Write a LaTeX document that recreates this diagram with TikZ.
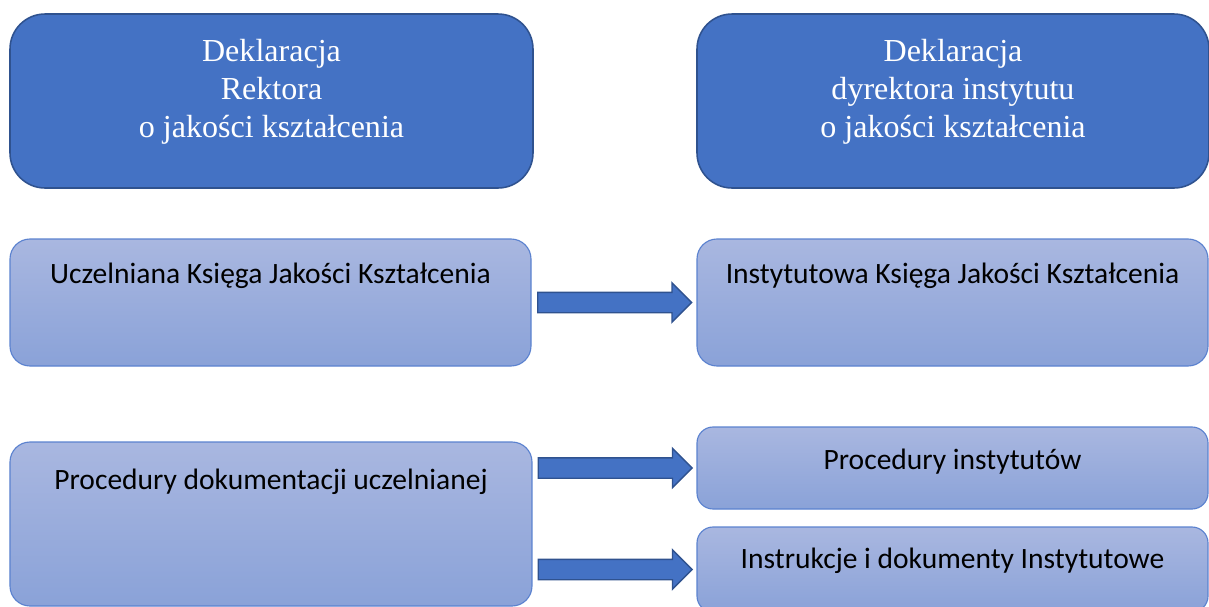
\documentclass[tikz,border=0pt]{standalone}
\usepackage{fontspec}
\setmainfont{Liberation Serif}
\newfontfamily\bodyfont{Carlito}
\usepackage{tikz}
\usetikzlibrary{shapes.arrows, positioning, calc}

\definecolor{declfill}{HTML}{4472C4}
\definecolor{declline}{HTML}{2F528F}
\definecolor{booktop}{HTML}{A9B7E0}
\definecolor{bookbot}{HTML}{8AA2D8}
\definecolor{bookline}{HTML}{5B82CF}

\begin{document}
\begin{tikzpicture}[
    decl/.style={draw=declline, line width=1.1pt, fill=declfill, rounded corners=0.875cm, minimum height=4.35cm, inner sep=0pt},
    book/.style={draw=bookline, line width=0.8pt, top color=booktop, bottom color=bookbot, rounded corners=0.5cm, inner sep=0pt},
    decltext/.style={text=white, align=center, yshift=0.23cm, font=\fontsize{22.8}{26.7}\selectfont},
    booktext/.style={anchor=base, font=\bodyfont\fontsize{21}{24}\selectfont},
    blockarrow/.style={single arrow, draw=declline, line width=1pt, fill=declfill, minimum height=3.85cm, inner xsep=0pt, inner ysep=0.2375cm, single arrow head extend=0.2375cm, xshift=-0.11cm}
]
    \useasboundingbox (0,0) rectangle (30.225,-15.15);

    % declarations
    \node[decl, minimum width=13.075cm, label={[decltext]center:Deklaracja\\Rektora\\o jakości kształcenia}] (rektor) at (6.7875,-2.525) {};
    \node[decl, minimum width=12.8cm, label={[decltext]center:Deklaracja\\dyrektora instytutu\\o jakości kształcenia}] (dyrektor) at (23.825,-2.525) {};

    % books of quality
    \node[book, minimum width=13.025cm, minimum height=3.175cm, label={[booktext, yshift=-1.13cm]north:Uczelniana Księga Jakości Kształcenia}] (uczkj) at (6.7625,-7.5625) {};
    \node[book, minimum width=12.775cm, minimum height=3.175cm, label={[booktext, yshift=-1.13cm]north:Instytutowa Księga Jakości Kształcenia}] (instkj) at (23.8125,-7.5625) {};

    % procedures
    \node[book, minimum width=13.05cm, minimum height=4.1cm, label={[booktext, yshift=-1.2cm]north:Procedury dokumentacji uczelnianej}] (procucz) at (6.775,-13.1) {};
    \node[book, minimum width=12.775cm, minimum height=2.05cm, rounded corners=0.4cm, label={[booktext, yshift=-1.075cm]north:Procedury instytutów}] (procinst) at (23.8125,-11.7) {};
    \node[book, minimum width=12.775cm, minimum height=2.125cm, rounded corners=0.4cm, label={[booktext, yshift=-1.05cm]north:Instrukcje i dokumenty Instytutowe}] (instrukcje) at (23.8125,-14.2375) {};

    \path (uczkj.east) -- node[blockarrow] {} (instkj.west);
    \path (procucz.east |- procinst.west) -- node[blockarrow] {} (procinst.west);
    \path (procucz.east |- instrukcje.west) -- node[blockarrow] {} (instrukcje.west);
\end{tikzpicture}
\end{document}
